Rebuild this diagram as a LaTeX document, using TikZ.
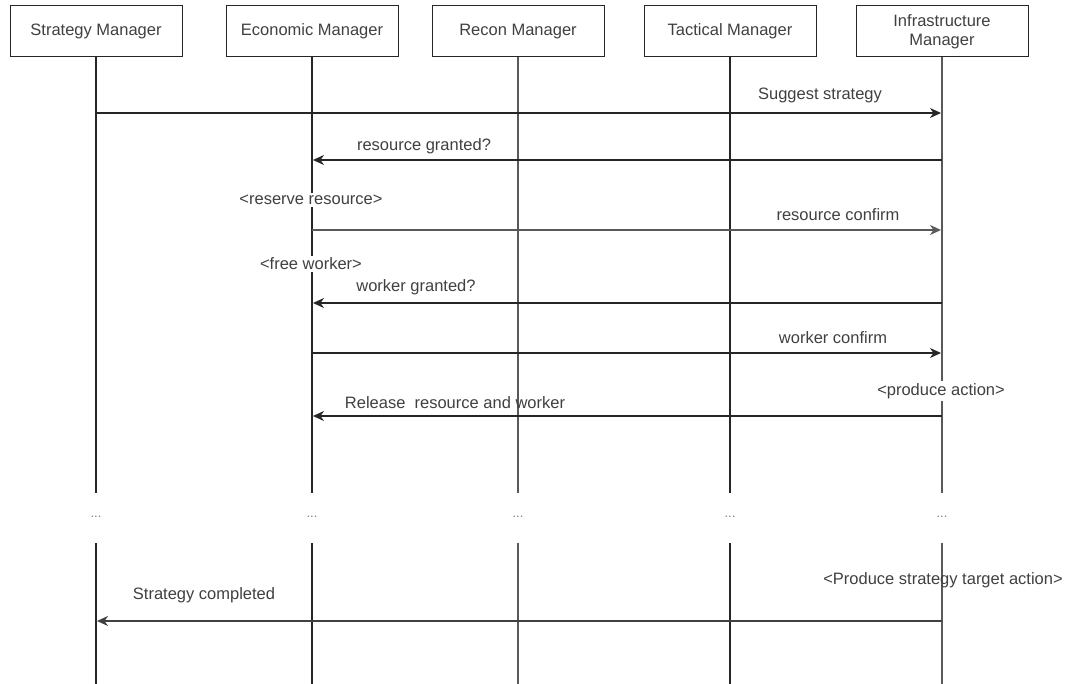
\documentclass[tikz,border=0pt]{standalone}
\usepackage{fontspec}
\setmainfont{Liberation Sans}
\usetikzlibrary{arrows.meta}
\begin{document}
\begin{tikzpicture}[x=1pt,y=-1pt,
  actor/.style={draw=black!85, line width=1pt, minimum width=172pt, minimum height=51pt,
    inner sep=0pt, align=center, font=\fontsize{16.5}{19}\selectfont, text=black!75},
  life/.style={line width=1.3pt},
  msg/.style={line width=1.3pt, draw=black!85, shorten >=1pt,
    -{Stealth[length=11pt,width=10pt,inset=3.5pt]}},
  lbl/.style={font=\fontsize{16.5}{19}\selectfont, text=black!75, inner sep=1pt},
  note/.style={lbl, fill=white, inner sep=2pt},
  dots/.style={font=\fontsize{13}{15}\selectfont, text=black!50, inner sep=0pt}]

\useasboundingbox (0,0) rectangle (1073,684);

% participants
\node[actor] (sm) at (96,31.5)  {Strategy Manager};
\node[actor] (em) at (312,31.5) {Economic Manager};
\node[actor] (rm) at (518,31.5) {Recon Manager};
\node[actor] (tm) at (730,31.5) {Tactical Manager};
\node[actor] (im) at (942,31.5) {Infrastructure\\Manager};

% vertical levels of the lifeline break
\coordinate (breakTop) at (0,493);
\coordinate (breakMid) at (0,517);
\coordinate (breakBot) at (0,543);
\coordinate (bottom)   at (0,684);

% lifelines, interrupted by an ellipsis
\foreach \p/\c in {sm/black!85, em/black!85, rm/black!65, tm/black!85, im/black!65} {
  \draw[life, draw=\c] (\p.south) -- (\p |- breakTop);
  \draw[life, draw=\c] (\p |- breakBot) -- (\p |- bottom);
  \node[dots] (dots-\p) at (\p |- breakMid) {...};
}

% message levels
\coordinate (m1) at (0,113);
\coordinate (m2) at (0,160);
\coordinate (m3) at (0,230);
\coordinate (m4) at (0,303);
\coordinate (m5) at (0,353);
\coordinate (m6) at (0,416);
\coordinate (m7) at (0,621);

% messages
\draw[msg] (sm |- m1) -- (im |- m1);
\node[lbl] (t1) at (820,95) {Suggest strategy};

\draw[msg] (im |- m2) -- (em |- m2);
\node[lbl] (t2) at (424,146) {resource granted?};

\node[note] (n1) at (311,200) {<reserve resource>};
\draw[msg, draw=black!65] (em |- m3) -- (im |- m3);
\node[lbl] (t3) at (838,215) {resource confirm};

\node[note] (n2) at (311,264) {<free worker>};
\draw[msg] (im |- m4) -- (em |- m4);
\node[lbl] (t4) at (416,287) {worker granted?};

\draw[msg] (em |- m5) -- (im |- m5);
\node[lbl] (t5) at (833,338) {worker confirm};

\node[note] (n3) at (941,391) {<produce action>};
\draw[msg] (im |- m6) -- (em |- m6);
\node[lbl] (t6) at (455,403) {Release\ \ resource and worker};

\node[lbl] (n4) at (943,580) {<Produce strategy target action>};
\draw[msg, draw=black!75] (im |- m7) -- (sm |- m7);
\node[lbl] (t7) at (204,595) {Strategy completed};

\end{tikzpicture}
\end{document}
